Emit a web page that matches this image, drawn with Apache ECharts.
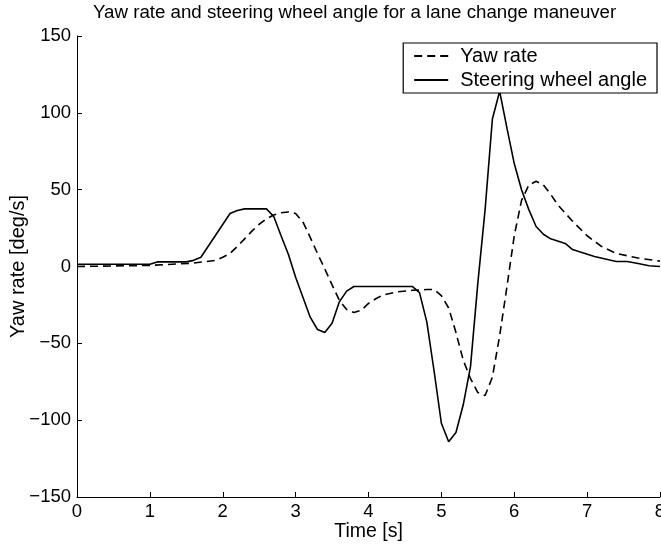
<!DOCTYPE html>
<html>
<head>
<meta charset="utf-8">
<script src="https://cdn.jsdelivr.net/npm/echarts@6/dist/echarts.min.js"></script>
<style>
  html, body { margin: 0; padding: 0; background: #fff; }
  #chart { width: 661px; height: 544px; }
</style>
</head>
<body>
<div id="chart"></div>
<script>
// Steering wheel angle [deg] over time [s]
var steerTime = [0, 1.0, 1.1, 1.5, 1.6, 1.7, 2.1, 2.2, 2.3, 2.6, 2.7, 2.8, 2.9, 3.0, 3.1, 3.2, 3.3, 3.4, 3.5, 3.6, 3.7, 3.8,
  4.6, 4.7, 4.8, 4.9, 5.0, 5.1, 5.2, 5.3, 5.4, 5.5, 5.6, 5.7, 5.8, 5.9, 6.0, 6.1, 6.2, 6.3, 6.4, 6.5, 6.7, 6.8, 7.1, 7.4, 7.55, 7.7, 7.85, 8.0];
var steerAngle = [1.5, 1.5, 3, 3, 4, 6, 34.5, 36.5, 37.5, 37.5, 32.5, 20, 8, -7, -20, -33, -41, -43, -37, -23, -16, -13,
  -13, -17, -36, -68, -102, -114, -108, -90, -65, -11, 37, 96, 114, 90, 67, 50, 37, 26, 21, 18, 15, 11, 6.5, 3.3, 3.3, 2, 0.5, 0];

// Yaw rate [deg/s] over time [s]
var yawTime = [0, 1.0, 1.6, 1.9, 2.0, 2.1, 2.2, 2.3, 2.4, 2.5, 2.6, 2.7, 2.8, 2.9, 3.0, 3.1, 3.2, 3.3, 3.4, 3.5, 3.6, 3.7, 3.8, 3.9,
  4.0, 4.1, 4.2, 4.4, 4.6, 4.8, 4.9, 5.0, 5.1, 5.2, 5.3, 5.4, 5.5, 5.6, 5.7, 5.8, 5.9, 6.0, 6.1, 6.2, 6.3, 6.4, 6.5, 6.6, 6.8, 7.0, 7.2, 7.4, 7.7, 8.0];
var yawRate = [0, 0.7, 2.2, 4, 6, 8.5, 13, 18, 23, 27.5, 31, 33.5, 35, 35.5, 34.5, 29, 19, 8.5, -1.5, -12, -22, -28, -30, -28.5,
  -24, -21, -18.5, -16.5, -15.5, -15, -15, -19, -27, -43, -61, -73, -82, -84, -72, -45, -13, 20, 43, 53, 55.5, 53, 47, 40, 29.5, 20, 13, 8.5, 5.5, 3.5];

var yTicks = { min: -150, max: 150, step: 50 };
var xTicks = { min: 0, max: 8, step: 1 };

function pairs(xs, ys) {
  return xs.map(function (x, i) { return [x, ys[i]]; });
}

var FONT = 'Liberation Sans';
var chart = echarts.init(document.getElementById('chart'), null, { renderer: 'canvas' });

chart.setOption({
  animation: false,
  backgroundColor: '#fff',
  textStyle: { fontFamily: FONT, color: '#000' },
  title: {
    text: 'Yaw rate and steering wheel angle for a lane change maneuver',
    left: 93,
    top: 3,
    padding: 0,
    textStyle: { fontFamily: FONT, fontSize: 18.7, fontWeight: 'normal', color: '#000' }
  },
  legend: {
    orient: 'vertical',
    right: 4,
    top: 43,
    backgroundColor: '#fff',
    borderColor: '#000',
    borderWidth: 1.2,
    borderRadius: 0,
    padding: [3, 10, 3, 10],
    itemGap: 4,
    itemWidth: 34,
    itemHeight: 14,
    itemStyle: { color: 'rgba(0,0,0,0)', borderWidth: 0, opacity: 0 },
    textStyle: { fontFamily: FONT, fontSize: 20, color: '#000', padding: [0, 0, 0, 7] },
    data: ['Yaw rate', 'Steering wheel angle']
  },
  grid: { left: 77, right: 1, top: 36, bottom: 47, containLabel: false, outerBoundsMode: 'none' },
  xAxis: {
    type: 'value',
    min: xTicks.min,
    max: xTicks.max,
    interval: xTicks.step,
    name: 'Time [s]',
    nameLocation: 'middle',
    nameGap: 25,
    nameMoveOverlap: false,
    nameTextStyle: { fontFamily: FONT, fontSize: 19.5, color: '#000' },
    axisLine: { onZero: false, lineStyle: { color: '#000', width: 1 } },
    axisTick: { inside: true, length: 5, lineStyle: { color: '#000' } },
    axisLabel: { fontFamily: FONT, fontSize: 18.5, color: '#000', margin: 5, hideOverlap: false },
    splitLine: { show: false }
  },
  yAxis: {
    type: 'value',
    min: yTicks.min,
    max: yTicks.max,
    interval: yTicks.step,
    name: 'Yaw rate [deg/s]',
    nameLocation: 'middle',
    nameGap: 49,
    nameMoveOverlap: false,
    nameTextStyle: { fontFamily: FONT, fontSize: 20, color: '#000' },
    axisLine: { show: true, onZero: false, lineStyle: { color: '#000', width: 1 } },
    axisTick: { show: true, inside: true, length: 5, lineStyle: { color: '#000' } },
    axisLabel: {
      fontFamily: FONT, fontSize: 18.5, color: '#000', margin: 6,
      formatter: function (v) { return String(v).replace('-', '\u2212'); }
    },
    splitLine: { show: false }
  },
  series: [
    {
      name: 'Yaw rate',
      type: 'line',
      symbol: 'none',
      data: pairs(yawTime, yawRate),
      lineStyle: { color: '#000', width: 1.6, type: [8, 5] },
      itemStyle: { color: '#000' }
    },
    {
      name: 'Steering wheel angle',
      type: 'line',
      symbol: 'none',
      data: pairs(steerTime, steerAngle),
      lineStyle: { color: '#000', width: 1.6, type: 'solid' },
      itemStyle: { color: '#000' }
    }
  ]
});
</script>
</body>
</html>
